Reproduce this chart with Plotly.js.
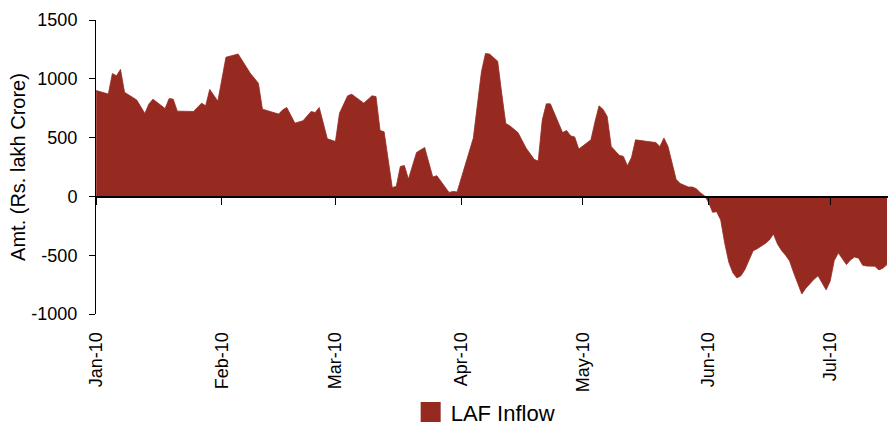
<!DOCTYPE html>
<html>
<head>
<meta charset="utf-8">
<script src="https://cdn.plot.ly/plotly-3.0.1.min.js"></script>
<style>
  html, body { margin: 0; padding: 0; background: #ffffff; }
  #chart { width: 896px; height: 428px; }
</style>
</head>
<body>
<div id="chart"></div>
<script>
// ---- Data ----
const seriesName = "LAF Inflow";
const yTitle = "Amt. (Rs. lakh Crore)";
const tickFormat = "%b-%y";
const xRange = ["2009-12-31 23:00", "2010-07-15 06:00"];
const yRange = [-1000, 1500];
const yTickVals = [-1000, -500, 0, 500, 1000, 1500];
const yTickText = ["-1000", "-500", "0", "500", "1000", "1500"];

const dates = [
  "2010-01-01","2010-01-04","2010-01-05","2010-01-06","2010-01-07","2010-01-08",
  "2010-01-11","2010-01-13","2010-01-14","2010-01-15","2010-01-18","2010-01-19",
  "2010-01-20","2010-01-21","2010-01-25","2010-01-27","2010-01-28","2010-01-29",
  "2010-01-31","2010-02-02","2010-02-05","2010-02-08","2010-02-10","2010-02-11",
  "2010-02-15","2010-02-16","2010-02-17","2010-02-19","2010-02-21","2010-02-23",
  "2010-02-24","2010-02-25","2010-02-27","2010-03-01","2010-03-02","2010-03-04",
  "2010-03-05","2010-03-08","2010-03-10","2010-03-11","2010-03-12","2010-03-13",
  "2010-03-15","2010-03-16","2010-03-17","2010-03-18","2010-03-19","2010-03-21",
  "2010-03-23","2010-03-25","2010-03-26","2010-03-29","2010-03-30","2010-03-31",
  "2010-04-04","2010-04-05","2010-04-06","2010-04-07","2010-04-08","2010-04-09",
  "2010-04-10","2010-04-11","2010-04-12","2010-04-13","2010-04-15","2010-04-17",
  "2010-04-19","2010-04-20","2010-04-21","2010-04-22","2010-04-23","2010-04-26",
  "2010-04-27","2010-04-28","2010-04-29","2010-04-30","2010-05-03","2010-05-04",
  "2010-05-05","2010-05-06","2010-05-07","2010-05-08","2010-05-10","2010-05-11",
  "2010-05-12","2010-05-13","2010-05-14","2010-05-17","2010-05-19","2010-05-20",
  "2010-05-21","2010-05-22","2010-05-24","2010-05-25","2010-05-26","2010-05-27",
  "2010-05-28","2010-05-29","2010-05-30","2010-05-31","2010-06-01","2010-06-02",
  "2010-06-03","2010-06-04","2010-06-05","2010-06-06","2010-06-07","2010-06-08",
  "2010-06-09","2010-06-10","2010-06-11","2010-06-12","2010-06-13","2010-06-14",
  "2010-06-15","2010-06-16","2010-06-17","2010-06-18","2010-06-19","2010-06-20",
  "2010-06-21","2010-06-22","2010-06-23","2010-06-24","2010-06-25","2010-06-26",
  "2010-06-27","2010-06-28","2010-06-29","2010-06-30","2010-07-01","2010-07-02",
  "2010-07-03","2010-07-04","2010-07-05","2010-07-06","2010-07-07","2010-07-08",
  "2010-07-09","2010-07-10","2010-07-11","2010-07-12","2010-07-13","2010-07-14",
  "2010-07-15"
];

const lafInflow = [
  900, 870, 1045, 1025, 1080, 885,
  820, 705, 785, 827, 747, 832,
  827, 725, 722, 793, 770, 910,
  810, 1183, 1211, 1047, 962, 742,
  700, 736, 756, 623, 643, 722,
  713, 756, 490, 467, 708, 855,
  869, 793, 855, 849, 560, 550,
  76, 85, 255, 262, 147, 374,
  416, 165, 176, 34, 42, 38,
  496, 760, 1060, 1215, 1210, 1180,
  1150, 875, 620, 600, 543, 411,
  315, 300, 650, 787, 787, 543,
  560, 515, 505, 402, 481, 635,
  770, 740, 680, 424, 349, 340,
  260, 330, 481, 467, 458, 424,
  496, 425, 145, 110, 95, 80,
  80, 65, 30, 5, -50, -135,
  -130, -200, -400, -560, -650, -693,
  -675, -620, -540, -462, -445, -425,
  -400, -370, -320, -405, -460, -500,
  -550, -650, -745, -830, -780, -740,
  -705, -675, -740, -795, -720, -545,
  -480, -535, -580, -540, -515, -525,
  -585, -592, -594, -594, -625, -610,
  -580
];

// ---- Styling ----
const RED = "#962a21";
const FONT = "Liberation Sans, Arial, Helvetica, sans-serif";

const traces = [
  {
    type: "scatter",
    x: dates,
    y: lafInflow,
    mode: "lines",
    fill: "tozeroy",
    fillcolor: RED,
    line: { color: RED, width: 0.8 },
    name: seriesName,
    showlegend: false,
    hoverinfo: "x+y"
  },
  {
    // legend swatch only
    type: "scatter",
    x: [null],
    y: [null],
    xaxis: "x2",
    mode: "markers",
    marker: { symbol: "square", size: 16, color: RED, line: { color: RED, width: 4 } },
    name: seriesName,
    showlegend: true
  }
];

const layout = {
  width: 896,
  height: 428,
  paper_bgcolor: "#ffffff",
  plot_bgcolor: "#ffffff",
  margin: { l: 96, r: 8, t: 20, b: 114, autoexpand: false },
  font: { family: FONT, color: "#000000", size: 18 },
  showlegend: true,
  legend: {
    orientation: "h",
    x: 0.492,
    xanchor: "center",
    xref: "paper",
    y: 0.037,
    yanchor: "middle",
    yref: "container",
    font: { family: FONT, size: 22, color: "#000000" },
    itemsizing: "trace",
    bgcolor: "rgba(0,0,0,0)"
  },
  xaxis: {
    type: "date",
    range: xRange,
    tick0: "2010-01-01",
    dtick: "M1",
    tickformat: tickFormat,
    tickangle: -90,
    ticks: "outside",
    ticklen: 10,
    tickcolor: "rgba(0,0,0,0)",
    showline: false,
    showgrid: false,
    zeroline: false,
    automargin: false,
    tickfont: { family: FONT, size: 18, color: "#000000" },
    fixedrange: true
  },
  xaxis2: {
    type: "date",
    overlaying: "x",
    anchor: "free",
    position: (0 - yRange[0]) / (yRange[1] - yRange[0]),
    range: xRange,
    tick0: "2010-01-01",
    dtick: "M1",
    ticks: "outside",
    ticklen: 7,
    tickwidth: 1,
    tickcolor: "#000000",
    showticklabels: false,
    showline: true,
    linecolor: "#000000",
    linewidth: 1.2,
    showgrid: false,
    zeroline: false,
    automargin: false,
    layer: "above traces",
    fixedrange: true
  },
  yaxis: {
    range: yRange,
    tickmode: "array",
    tickvals: yTickVals,
    ticktext: yTickText,
    ticks: "outside",
    ticklen: 6,
    tickwidth: 1,
    tickcolor: "#000000",
    showline: true,
    linecolor: "#000000",
    linewidth: 1,
    showgrid: false,
    zeroline: false,
    layer: "above traces",
    ticklabelstandoff: 8,
    tickfont: { family: FONT, size: 18, color: "#000000" },
    title: { text: yTitle, font: { family: FONT, size: 20, color: "#000000" }, standoff: 0 },
    automargin: false,
    fixedrange: true
  }
};

Plotly.newPlot("chart", traces, layout, { displayModeBar: false, staticPlot: true });
</script>
</body>
</html>
